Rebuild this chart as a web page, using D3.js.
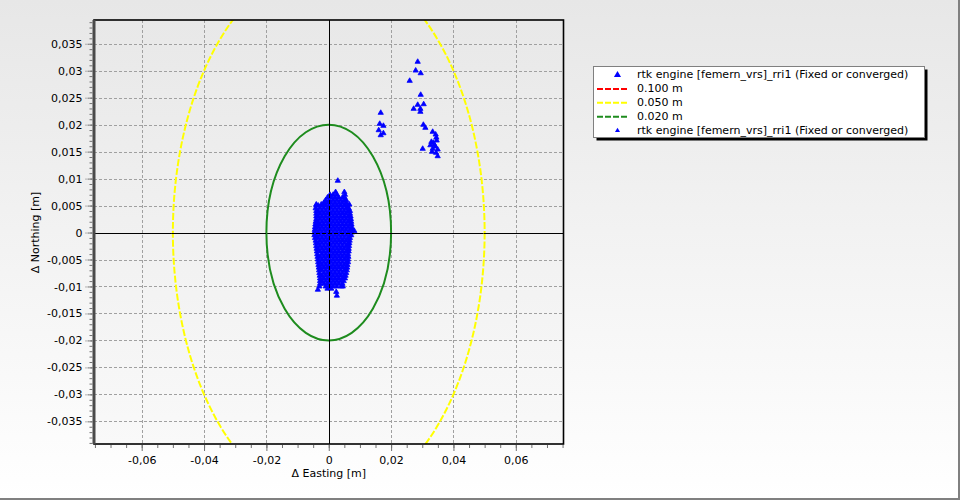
<!DOCTYPE html>
<html><head><meta charset="utf-8">
<script src="https://cdn.jsdelivr.net/npm/d3@7"></script>
<style>
body{margin:0;background:#fff}
svg{display:block}
text{font-family:"DejaVu Sans",Verdana,sans-serif;font-size:11px;fill:#000}
</style>
</head><body>
<svg id="chart" width="960" height="500"></svg>
<script>
// ---------- data ----------
const xTicks = [-0.06, -0.04, -0.02, 0, 0.02, 0.04, 0.06];
const yTicks = [-0.035, -0.03, -0.025, -0.02, -0.015, -0.01, -0.005, 0, 0.005, 0.01, 0.015, 0.02, 0.025, 0.03, 0.035];
const ringRadii = [0.100, 0.050, 0.020];
const legendLabels = [
  "rtk engine [femern_vrs]_rri1 (Fixed or converged)",
  "0.100 m", "0.050 m", "0.020 m",
  "rtk engine [femern_vrs]_rri1 (Fixed or converged)"
];
// dense cluster: [northing, [eastings...]] (metres)
const clusterRows = [
  [0.0096, [0.0029]],
  [0.0075, [0.0022, 0.0050]],
  [0.0070, [0.0004, 0.0014, 0.0026, 0.0052]],
  [0.0065, [-0.0004, 0.0008, 0.0020, 0.0032, 0.0044, 0.0050]],
  [0.0060, [-0.0010, 0.0002, 0.0014, 0.0026, 0.0038, 0.0050, 0.0056]],
  [0.0055, [-0.0016, -0.0014, -0.0004, 0.0008, 0.0020, 0.0032, 0.0044, 0.0056]],
  [0.0052, [-0.0040, -0.0024, 0.0066]],
  [0.0050, [-0.0040, -0.0034, -0.0022, -0.0010, 0.0002, 0.0014, 0.0026, 0.0038, 0.0050, 0.0060]],
  [0.0045, [-0.0042, -0.0028, -0.0016, -0.0004, 0.0008, 0.0020, 0.0032, 0.0044, 0.0056, 0.0064]],
  [0.0040, [-0.0040, -0.0034, -0.0022, -0.0010, 0.0002, 0.0014, 0.0026, 0.0038, 0.0050, 0.0062, 0.0068]],
  [0.0035, [-0.0040, -0.0028, -0.0016, -0.0004, 0.0008, 0.0020, 0.0032, 0.0044, 0.0056, 0.0068]],
  [0.0030, [-0.0040, -0.0034, -0.0022, -0.0010, 0.0002, 0.0014, 0.0026, 0.0038, 0.0050, 0.0062, 0.0070]],
  [0.0025, [-0.0040, -0.0028, -0.0016, -0.0004, 0.0008, 0.0020, 0.0032, 0.0044, 0.0056, 0.0068, 0.0071]],
  [0.0020, [-0.0042, -0.0034, -0.0022, -0.0010, 0.0002, 0.0014, 0.0026, 0.0038, 0.0050, 0.0062, 0.0072]],
  [0.0015, [-0.0043, -0.0036, -0.0028, -0.0016, -0.0004, 0.0008, 0.0020, 0.0032, 0.0044, 0.0056, 0.0068, 0.0073]],
  [0.0010, [-0.0044, -0.0034, -0.0022, -0.0010, 0.0002, 0.0014, 0.0026, 0.0038, 0.0050, 0.0062, 0.0074]],
  [0.0005, [-0.0045, -0.0040, -0.0028, -0.0016, -0.0004, 0.0008, 0.0020, 0.0032, 0.0044, 0.0056, 0.0068, 0.0075]],
  [0.0003, [0.0082]],
  [0.0000, [-0.0046, -0.0034, -0.0022, -0.0010, 0.0002, 0.0014, 0.0026, 0.0038, 0.0050, 0.0062, 0.0074]],
  [-0.0005, [-0.0046, -0.0040, -0.0028, -0.0016, -0.0004, 0.0008, 0.0020, 0.0032, 0.0044, 0.0056, 0.0068, 0.0072]],
  [-0.0010, [-0.0044, -0.0034, -0.0022, -0.0010, 0.0002, 0.0014, 0.0026, 0.0038, 0.0050, 0.0062, 0.0068]],
  [-0.0015, [-0.0042, -0.0028, -0.0016, -0.0004, 0.0008, 0.0020, 0.0032, 0.0044, 0.0056, 0.0067]],
  [-0.0020, [-0.0041, -0.0034, -0.0022, -0.0010, 0.0002, 0.0014, 0.0026, 0.0038, 0.0050, 0.0062, 0.0066]],
  [-0.0025, [-0.0040, -0.0028, -0.0016, -0.0004, 0.0008, 0.0020, 0.0032, 0.0044, 0.0056, 0.0065]],
  [-0.0030, [-0.0039, -0.0034, -0.0022, -0.0010, 0.0002, 0.0014, 0.0026, 0.0038, 0.0050, 0.0062, 0.0064]],
  [-0.0035, [-0.0038, -0.0028, -0.0016, -0.0004, 0.0008, 0.0020, 0.0032, 0.0044, 0.0056, 0.0064]],
  [-0.0040, [-0.0037, -0.0022, -0.0010, 0.0002, 0.0014, 0.0026, 0.0038, 0.0050, 0.0062]],
  [-0.0045, [-0.0036, -0.0028, -0.0016, -0.0004, 0.0008, 0.0020, 0.0032, 0.0044, 0.0056, 0.0063]],
  [-0.0050, [-0.0035, -0.0022, -0.0010, 0.0002, 0.0014, 0.0026, 0.0038, 0.0050, 0.0062]],
  [-0.0055, [-0.0034, -0.0028, -0.0016, -0.0004, 0.0008, 0.0020, 0.0032, 0.0044, 0.0056, 0.0062]],
  [-0.0060, [-0.0033, -0.0022, -0.0010, 0.0002, 0.0014, 0.0026, 0.0038, 0.0050, 0.0060]],
  [-0.0065, [-0.0032, -0.0028, -0.0016, -0.0004, 0.0008, 0.0020, 0.0032, 0.0044, 0.0056, 0.0059]],
  [-0.0070, [-0.0031, -0.0022, -0.0010, 0.0002, 0.0014, 0.0026, 0.0038, 0.0050, 0.0058]],
  [-0.0075, [-0.0030, -0.0016, -0.0004, 0.0008, 0.0020, 0.0032, 0.0044, 0.0056]],
  [-0.0080, [-0.0029, -0.0022, -0.0010, 0.0002, 0.0014, 0.0026, 0.0038, 0.0050, 0.0054]],
  [-0.0085, [-0.0028, -0.0016, -0.0004, 0.0008, 0.0020, 0.0032, 0.0044, 0.0052]],
  [-0.0090, [-0.0028, -0.0022, -0.0010, 0.0002, 0.0014, 0.0026, 0.0038, 0.0048]],
  [-0.0095, [-0.0028, -0.0016, -0.0004, 0.0008, 0.0020, 0.0032, 0.0044]],
  [-0.0100, [-0.0030, -0.0010, 0.0002, 0.0014, 0.0026, 0.0040, 0.0045]],
  [-0.0104, [-0.0004, 0.0008]],
  [-0.0106, [-0.0035]],
  [-0.0110, [0.0024]],
  [-0.0117, [0.0026]]
];
// scattered points north-east of the cluster: [easting, northing]
const outlierPoints = [
  [0.02853, 0.03165], [0.02788, 0.03003], [0.02949, 0.02953], [0.02596, 0.02812],
  [0.02949, 0.02553], [0.02853, 0.02367], [0.03045, 0.02379], [0.02724, 0.02293],
  [0.02939, 0.02293], [0.02939, 0.02238], [0.01667, 0.02219], [0.03035, 0.01997],
  [0.03099, 0.01941], [0.01635, 0.02015], [0.01753, 0.01978], [0.01603, 0.01897],
  [0.01753, 0.01841], [0.01667, 0.01804], [0.03333, 0.01867], [0.03429, 0.01817],
  [0.03292, 0.01681], [0.03356, 0.01663], [0.03462, 0.01706], [0.03260, 0.01618],
  [0.03420, 0.01594], [0.03333, 0.01552], [0.03494, 0.01539], [0.03314, 0.01496],
  [0.03442, 0.01478], [0.03494, 0.01415], [0.03013, 0.01552], [0.03388, 0.01630],
  [0.03452, 0.01760]
];

// ---------- layout ----------
const W = 960, H = 500;
const plot = {left: 94, right: 563.5, top: 20, bottom: 444};
const svg = d3.select("#chart");
const x = d3.scaleLinear().domain([-0.0753, 0.0753]).range([plot.left, plot.right]);
const y = d3.scaleLinear().domain([-0.0392, 0.0394]).range([plot.bottom, plot.top]);
const fmt = d => d === 0 ? "0" : String(+d.toFixed(4)).replace(".", ",");

const defs = svg.append("defs");
const g1 = defs.append("linearGradient").attr("id", "bgGrad").attr("x1", 0).attr("y1", 0).attr("x2", 0).attr("y2", 1);
g1.append("stop").attr("offset", "0%").attr("stop-color", "#e7e7e7");
g1.append("stop").attr("offset", "100%").attr("stop-color", "#ffffff");
const g2 = defs.append("linearGradient").attr("id", "plotGrad").attr("x1", 0).attr("y1", 0).attr("x2", 0).attr("y2", 1);
g2.append("stop").attr("offset", "0%").attr("stop-color", "#e8e8e8");
g2.append("stop").attr("offset", "100%").attr("stop-color", "#f9f9f9");
defs.append("clipPath").attr("id", "clip").append("rect")
  .attr("x", plot.left).attr("y", plot.top)
  .attr("width", plot.right - plot.left).attr("height", plot.bottom - plot.top);

svg.append("rect").attr("width", W).attr("height", H).attr("fill", "url(#bgGrad)");
svg.append("line").attr("x1", W - 1).attr("x2", W - 1).attr("y1", 0).attr("y2", H).attr("stroke", "#808080").attr("stroke-width", 2);
svg.append("line").attr("x1", 0).attr("x2", W).attr("y1", H - 1).attr("y2", H - 1).attr("stroke", "#808080").attr("stroke-width", 2);

svg.append("rect").attr("x", plot.left).attr("y", plot.top)
  .attr("width", plot.right - plot.left).attr("height", plot.bottom - plot.top)
  .attr("fill", "url(#plotGrad)");

const inner = svg.append("g").attr("clip-path", "url(#clip)");

// grid
inner.selectAll("line.gx").data(xTicks).join("line").attr("class", "gx")
  .attr("x1", d => Math.round(x(d)) + 0.5).attr("x2", d => Math.round(x(d)) + 0.5)
  .attr("y1", plot.top).attr("y2", plot.bottom)
  .attr("stroke", "#a0a0a0").attr("stroke-dasharray", "3,2");
inner.selectAll("line.gy").data(yTicks).join("line").attr("class", "gy")
  .attr("y1", d => Math.round(y(d)) + 0.5).attr("y2", d => Math.round(y(d)) + 0.5)
  .attr("x1", plot.left).attr("x2", plot.right)
  .attr("stroke", "#a0a0a0").attr("stroke-dasharray", "3,2");

// zero axes (under points)
inner.append("line").attr("x1", Math.round(x(0)) + 0.5).attr("x2", Math.round(x(0)) + 0.5)
  .attr("y1", plot.top).attr("y2", plot.bottom).attr("stroke", "#000");
inner.append("line").attr("y1", Math.round(y(0)) + 0.5).attr("y2", Math.round(y(0)) + 0.5)
  .attr("x1", plot.left).attr("x2", plot.right).attr("stroke", "#000");

// rings
const ringColor = ["#ff0000", "#ffff00", "#1e8c1e"];
inner.selectAll("ellipse.ring").data(ringRadii).join("ellipse").attr("class", "ring")
  .attr("cx", x(0)).attr("cy", y(0))
  .attr("rx", d => x(d) - x(0)).attr("ry", d => y(0) - y(d))
  .attr("fill", "none").attr("stroke", (d, i) => ringColor[i])
  .attr("stroke-width", 2).attr("stroke-dasharray", (d, i) => i === 2 ? null : "7,2");

// points
const pts = [];
clusterRows.forEach(([n, es]) => es.forEach(e => pts.push([e, n])));
outlierPoints.forEach(p => pts.push(p));
const tri = d3.symbol(d3.symbolTriangle, 12);
inner.selectAll("path.pt").data(pts).join("path").attr("class", "pt")
  .attr("d", tri)
  .attr("transform", d => `translate(${x(d[0])},${y(d[1])})`)
  .attr("fill", "#0000ff").attr("stroke", "#0000ff").attr("stroke-width", 0.8)
  .attr("stroke-linejoin", "round");

// zero axes overlay through the cluster
inner.append("line").attr("x1", Math.round(x(0)) + 0.5).attr("x2", Math.round(x(0)) + 0.5)
  .attr("y1", plot.top).attr("y2", plot.bottom).attr("stroke", "#000").attr("stroke-dasharray", "4,2");
inner.append("line").attr("y1", Math.round(y(0)) + 0.5).attr("y2", Math.round(y(0)) + 0.5)
  .attr("x1", plot.left).attr("x2", plot.right).attr("stroke", "#000").attr("stroke-dasharray", "4,2");

// frame
svg.append("rect").attr("x", plot.left).attr("y", plot.top)
  .attr("width", plot.right - plot.left).attr("height", plot.bottom - plot.top)
  .attr("fill", "none").attr("stroke", "#000").attr("stroke-width", 1.6);
svg.append("line").attr("x1", plot.left).attr("x2", plot.left).attr("y1", plot.top).attr("y2", plot.bottom)
  .attr("stroke", "#4a4a4a").attr("stroke-width", 3);

// axes
const yMinor = d3.range(-39, 40).map(v => v / 1000);
const xMinor = d3.range(-15, 16).map(v => v * 0.005);
const yAxis = svg.append("g").attr("transform", `translate(${plot.left - 1.5},0)`);
yAxis.call(d3.axisLeft(y).tickValues(yMinor).tickSize(3).tickFormat(""))
  .call(g => g.select(".domain").remove())
  .call(g => g.selectAll("line").attr("stroke", "#707070"));
const yAxisMaj = svg.append("g").attr("transform", `translate(${plot.left - 1.5},0)`);
yAxisMaj.call(d3.axisLeft(y).tickValues(yTicks).tickSize(7).tickPadding(3).tickFormat(fmt))
  .call(g => g.select(".domain").remove())
  .call(g => g.selectAll("line").attr("stroke", "#707070").attr("stroke-dasharray", "2,1"))
  .call(g => g.selectAll("text").attr("font-size", 11).attr("font-family", "DejaVu Sans").attr("fill", "#000"));

const xAxis = svg.append("g").attr("transform", `translate(0,${plot.bottom + 1})`);
xAxis.call(d3.axisBottom(x).tickValues(xMinor.filter(v => v >= -0.0753 && v <= 0.0753)).tickSize(3).tickFormat(""))
  .call(g => g.select(".domain").remove())
  .call(g => g.selectAll("line").attr("stroke", "#707070"));
const xAxisMaj = svg.append("g").attr("transform", `translate(0,${plot.bottom + 1})`);
xAxisMaj.call(d3.axisBottom(x).tickValues(xTicks).tickSize(6).tickPadding(5).tickFormat(fmt))
  .call(g => g.select(".domain").remove())
  .call(g => g.selectAll("line").attr("stroke", "#707070"))
  .call(g => g.selectAll("text").attr("font-size", 11).attr("font-family", "DejaVu Sans").attr("fill", "#000"));

svg.append("text").attr("x", x(0)).attr("y", 477).attr("text-anchor", "middle").text("Δ Easting [m]");
svg.append("text").attr("transform", `translate(39,${y(0)}) rotate(-90)`).attr("text-anchor", "middle").text("Δ Northing [m]");

// legend
const lg = {x: 593.5, y: 66.5, w: 331, h: 71};
svg.append("rect").attr("x", lg.x + 3).attr("y", lg.y + 3).attr("width", lg.w).attr("height", lg.h).attr("fill", "#000");
svg.append("rect").attr("x", lg.x).attr("y", lg.y).attr("width", lg.w).attr("height", lg.h)
  .attr("fill", "#fff").attr("stroke", "#808080");
const rows = svg.selectAll("g.lrow").data(legendLabels).join("g").attr("class", "lrow")
  .attr("transform", (d, i) => `translate(0,${74.5 + i * 13.9})`);
rows.append("text").attr("x", 637).attr("dy", "0.36em").text(d => d);
rows.each(function(d, i) {
  const r = d3.select(this);
  if (i === 0 || i === 4) {
    r.append("path").attr("d", d3.symbol(d3.symbolTriangle, i === 0 ? 22 : 11))
      .attr("transform", "translate(617.5,0.5)").attr("fill", "#0000ff");
  } else {
    r.append("line").attr("x1", 597).attr("x2", 627).attr("y1", 0.5).attr("y2", 0.5)
      .attr("stroke", ringColor[i - 1]).attr("stroke-width", 2).attr("stroke-dasharray", "6,2");
  }
});
</script>
</body></html>
